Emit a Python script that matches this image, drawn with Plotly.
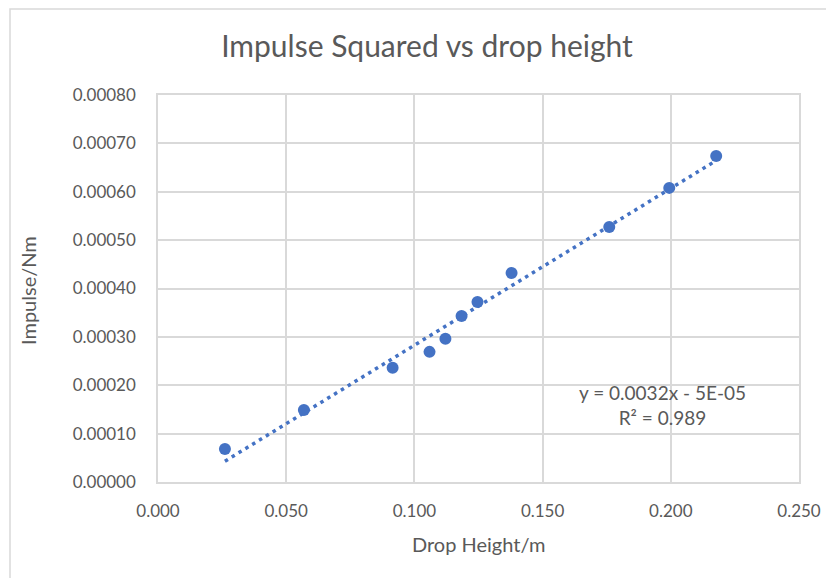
import numpy as np
import plotly.graph_objects as go

drop_height = [0.0261, 0.0569, 0.0915, 0.1059, 0.1121, 0.1184, 0.1246, 0.1379, 0.1760, 0.1994, 0.2177]
impulse_sq = [0.0000682, 0.000149, 0.000236, 0.000269, 0.000296, 0.000343, 0.000372, 0.000432, 0.000527, 0.000608, 0.000674]

x_ticks = [0.0, 0.05, 0.10, 0.15, 0.20, 0.25]
x_tick_labels = ["0.000", "0.050", "0.100", "0.150", "0.200", "0.250"]
y_ticks = [0.0, 0.0001, 0.0002, 0.0003, 0.0004, 0.0005, 0.0006, 0.0007, 0.0008]
y_tick_labels = ["0.00000", "0.00010", "0.00020", "0.00030", "0.00040", "0.00050", "0.00060", "0.00070", "0.00080"]

title_text = "Impulse Squared vs drop height"
x_title = "Drop Height/m"
y_title = "Impulse/Nm"
eq_text = "y = 0.0032x - 5E-05<br>R² = 0.989"

FONT = "Lato, 'Open Sans', sans-serif"
GRAY = "#595959"
GRID = "#d9d9d9"
BLUE = "#4472c4"

slope, intercept = np.polyfit(drop_height, impulse_sq, 1)
tx = [min(drop_height), max(drop_height)]
ty = [slope * v + intercept for v in tx]

fig = go.Figure()
fig.add_trace(go.Scatter(x=tx, y=ty, mode="lines",
                         line=dict(color=BLUE, width=3.5, dash="3.5px,4.5px"),
                         hoverinfo="skip", showlegend=False))
fig.add_trace(go.Scatter(x=drop_height, y=impulse_sq, mode="markers",
                         marker=dict(color=BLUE, size=12),
                         showlegend=False))

fig.add_annotation(x=0.1966, y=0.00016, xref="x", yref="y", text=eq_text,
                   showarrow=False, font=dict(family=FONT, size=19, color=GRAY),
                   align="center")

# axis titles
fig.add_annotation(x=0.5, y=(482 - 544) / 387, xref="paper", yref="paper", text=x_title,
                   showarrow=False, font=dict(family=FONT, size=20, color=GRAY),
                   xanchor="center", yanchor="middle")
fig.add_annotation(x=(28 - 158) / 641, y=(482 - 291) / 387, xref="paper", yref="paper", text=y_title,
                   showarrow=False, textangle=-90, font=dict(family=FONT, size=20, color=GRAY),
                   xanchor="center", yanchor="middle")

# outer chart border
fig.add_shape(type="rect", xref="paper", yref="paper",
              x0=(10 - 158) / 641, x1=(860 - 158) / 641,
              y0=(482 - 600) / 387, y1=(482 - 9) / 387,
              line=dict(color=GRID, width=1.5), fillcolor="rgba(0,0,0,0)", layer="below")

fig.update_layout(
    width=826, height=570,
    margin=dict(l=150, r=35, t=87, b=96),
    paper_bgcolor="white", plot_bgcolor="white",
    title=dict(text=title_text, x=(427 - 8) / 826, xanchor="center", y=1 - (46 - 8) / 570, yanchor="middle",
               font=dict(family=FONT, size=30, color=GRAY)),
    xaxis=dict(range=[0, 0.25], tickvals=x_ticks, ticktext=x_tick_labels,
               showgrid=True, gridcolor=GRID, gridwidth=1.5,
               showline=True, linecolor=GRID, linewidth=1.5, mirror=True,
               zeroline=False, ticks="outside", ticklen=13, tickcolor="rgba(0,0,0,0)",
               tickfont=dict(family=FONT, size=17, color=GRAY)),
    yaxis=dict(range=[0, 0.0008], tickvals=y_ticks, ticktext=y_tick_labels,
               showgrid=True, gridcolor=GRID, gridwidth=1.5,
               showline=True, linecolor=GRID, linewidth=1.5, mirror=True,
               zeroline=False, ticks="outside", ticklen=17, tickcolor="rgba(0,0,0,0)",
               tickfont=dict(family=FONT, size=17, color=GRAY)),
)

fig.write_html("out.html")
